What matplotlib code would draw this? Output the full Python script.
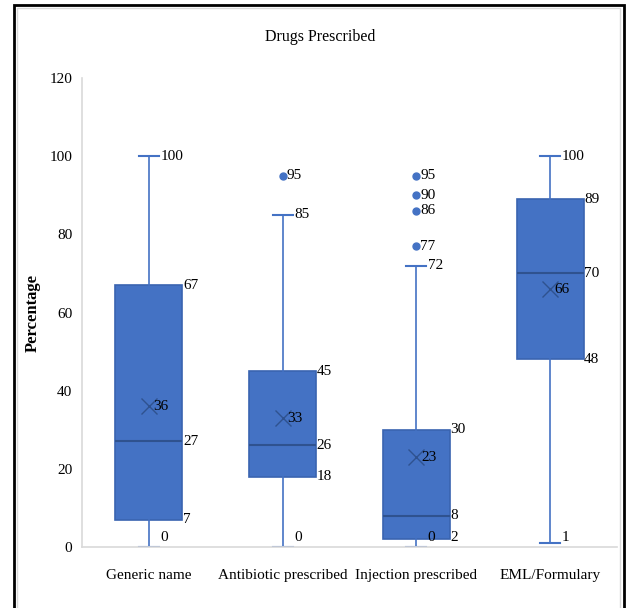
import matplotlib
matplotlib.use("Agg")
import matplotlib.pyplot as plt
from matplotlib.patches import Rectangle

categories = ["Generic name", "Antibiotic prescribed", "Injection prescribed", "EML/Formulary"]
mins = [0, 0, 0, 1]
q1s = [7, 18, 2, 48]
medians = [27, 26, 8, 70]
q3s = [67, 45, 30, 89]
maxs = [100, 85, 72, 100]
means = [36, 33, 23, 66]
outliers = [[], [95], [77, 86, 90, 95], []]
yticks = [0, 20, 40, 60, 80, 100, 120]

plt.rcParams['font.family'] = ['Liberation Serif', 'DejaVu Serif']

BLUE = "#4472C4"
DARK = "#2F528F"

fig = plt.figure(figsize=(6.27, 6.08), dpi=100)
ax = fig.add_axes([82/627, 1 - 547/608, (617-82)/627, (547-78)/608])

stats = []
for i, c in enumerate(categories):
    stats.append(dict(label=c, whislo=mins[i], q1=q1s[i], med=medians[i],
                      q3=q3s[i], whishi=maxs[i], mean=means[i], fliers=outliers[i]))

positions = list(range(1, len(categories) + 1))
ax.bxp(stats, positions=positions, widths=0.5, capwidths=0.15,
       patch_artist=True, showmeans=True,
       boxprops=dict(facecolor=BLUE, edgecolor="#3A64B0", linewidth=1.2),
       medianprops=dict(color=DARK, linewidth=1.5),
       whiskerprops=dict(color=BLUE, linewidth=1.2),
       capprops=dict(color=BLUE, linewidth=1.5),
       meanprops=dict(marker='x', markeredgecolor=DARK, markersize=11,
                      markeredgewidth=1.0),
       flierprops=dict(marker='o', markerfacecolor=BLUE, markeredgecolor=BLUE,
                       markersize=5))

fs = 11
def lbl(x, y, v):
    ax.text(x, max(y, 2.5), f"{v}", ha='left', va='center', fontsize=fs, color='black')

for i, p in enumerate(positions):
    lbl(p + 0.085, maxs[i], maxs[i])
    lbl(p + 0.085, mins[i], mins[i])
    lbl(p + 0.255, q3s[i], q3s[i])
    lbl(p + 0.255, medians[i], medians[i])
    lbl(p + 0.255, q1s[i], q1s[i])
    lbl(p + 0.035, means[i], means[i])
    for o in outliers[i]:
        lbl(p + 0.03, o, o)

ax.set_xlim(0.5, len(categories) + 0.5)
ax.set_ylim(0, 120)
ax.set_yticks(yticks)
ax.set_yticklabels([str(t) for t in yticks], fontsize=fs)
ax.set_xticks(positions)
ax.set_xticklabels(categories, fontsize=11)
ax.tick_params(axis='both', length=0)
ax.tick_params(axis='y', pad=7)
ax.tick_params(axis='x', pad=16)
for s in ['top', 'right']:
    ax.spines[s].set_visible(False)
for s in ['left', 'bottom']:
    ax.spines[s].set_color("#D9D9D9")
    ax.spines[s].set_linewidth(1.2)

ax.set_ylabel("Percentage", fontsize=12, fontweight='bold')
ax.yaxis.set_label_coords((41-82)/535, 0.5)

fig.text(320/627, 1 - 37/608, "Drugs Prescribed", ha='center', va='center', fontsize=11.5)

# outer frame
fig.patches.append(Rectangle((17/627, -0.02), (620-17)/627, (600)/608 + 0.02,
                             transform=fig.transFigure, fill=False,
                             edgecolor="#D9D9D9", linewidth=1))
fig.patches.append(Rectangle((13.5/627, -0.02), (624-13.5)/627, (608-5)/608 + 0.02,
                             transform=fig.transFigure, fill=False,
                             edgecolor="black", linewidth=2))

fig.savefig("out.png", dpi=100)
